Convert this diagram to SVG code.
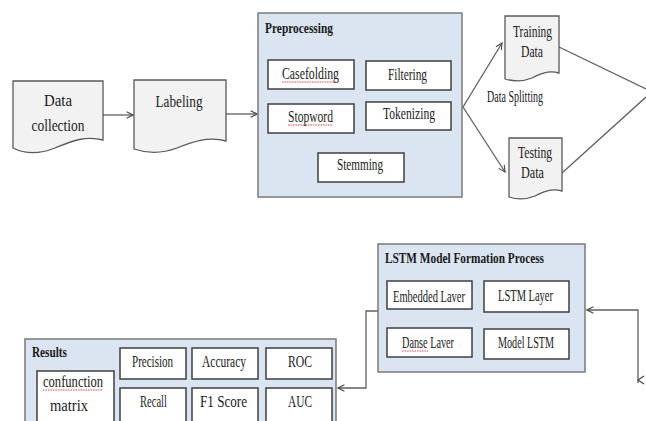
<svg xmlns="http://www.w3.org/2000/svg" width="646" height="421" viewBox="0 0 646 421">
<style>
text{font-family:"Liberation Serif","Times New Roman","DejaVu Serif",serif;fill:#1a1a1a;font-size:16px}
.b{font-weight:bold;font-size:14px}
.doc{fill:#f2f2f2;stroke:#5a5a5a;stroke-width:1.3}
.grp{fill:#dbe5f1;stroke:#7a7a7a;stroke-width:1.5}
.box{fill:#ffffff;stroke:#3f3f3f;stroke-width:1.5}
.c{fill:none;stroke:#5f5f5f;stroke-width:1.3}
.sq{fill:none;stroke:#e03030;stroke-width:0.9;stroke-dasharray:1.5 1}
</style>
<defs>
<marker id="ah" viewBox="0 0 10 10" refX="9" refY="5" markerWidth="8" markerHeight="8" markerUnits="userSpaceOnUse" orient="auto">
<path d="M1,1 L9,5 L1,9" fill="none" stroke="#4a4a4a" stroke-width="1.4"/>
</marker>
</defs>
<rect width="646" height="421" fill="#ffffff"/>

<g id="connectors">
<line class="c" x1="103" y1="115" x2="133" y2="115" marker-end="url(#ah)"/>
<line class="c" x1="226" y1="114" x2="257" y2="114" marker-end="url(#ah)"/>
<polyline class="c" points="463,107 502,43" marker-end="url(#ah)"/>
<polyline class="c" points="463,107 505,172" marker-end="url(#ah)"/>
<line class="c" x1="559" y1="47" x2="646" y2="89"/>
<line class="c" x1="562" y1="173" x2="646" y2="97"/>
<polyline class="c" points="638,383 638,310 587,310" marker-end="url(#ah)"/>
<path d="M644,376 L638,380 L644,384" fill="none" stroke="#4a4a4a" stroke-width="1.3"/>
<polyline class="c" points="378,311 366,311 366,388 338,388" marker-end="url(#ah)"/>
<text x="515" y="102" text-anchor="middle" font-size="11" textLength="56" lengthAdjust="spacingAndGlyphs">Data Splitting</text>
</g>

<g id="data-collection">
<path class="doc" d="M13,81 H103 V140 C85,135 70,142 55,148 C40,154 25,154 13,148 Z"/>
<text x="58" y="106" text-anchor="middle" font-size="19" textLength="28" lengthAdjust="spacingAndGlyphs">Data</text>
<text x="58" y="131" text-anchor="middle" font-size="19" textLength="53" lengthAdjust="spacingAndGlyphs">collection</text>
</g>

<g id="labeling">
<path class="doc" d="M134,80 H226 V141 C208,136 192,142 177,148 C161,154 146,153 134,149 Z"/>
<text x="179" y="107" text-anchor="middle" font-size="18" textLength="47" lengthAdjust="spacingAndGlyphs">Labeling</text>
</g>

<g id="preprocessing">
<rect class="grp" x="258" y="13" width="204" height="184"/>
<text class="b" x="265" y="33" textLength="68" lengthAdjust="spacingAndGlyphs">Preprocessing</text>
<g id="casefolding">
<rect class="box" x="268" y="60" width="86" height="29"/>
<text x="310.5" y="79" text-anchor="middle" textLength="57" lengthAdjust="spacingAndGlyphs">Casefolding</text>
<path class="sq" d="M282,82 H339"/>
</g>
<g id="filtering">
<rect class="box" x="366" y="61" width="85" height="29"/>
<text x="407.5" y="80" text-anchor="middle" textLength="39" lengthAdjust="spacingAndGlyphs">Filtering</text>
</g>
<g id="stopword">
<rect class="box" x="268" y="104" width="86" height="29"/>
<text x="310.5" y="122" text-anchor="middle" textLength="45" lengthAdjust="spacingAndGlyphs">Stopword</text>
<path class="sq" d="M288,125 H333"/>
</g>
<g id="tokenizing">
<rect class="box" x="366" y="102" width="85" height="28"/>
<text x="409" y="119" text-anchor="middle" textLength="52" lengthAdjust="spacingAndGlyphs">Tokenizing</text>
</g>
<g id="stemming">
<rect class="box" x="318" y="153" width="86" height="29"/>
<text x="360" y="170" text-anchor="middle" textLength="46" lengthAdjust="spacingAndGlyphs">Stemming</text>
</g>
</g>

<g id="training-data">
<path class="doc" d="M505,16 H559 V73 C548,70 540,74 532,78 C522,82 512,81 505,79 Z"/>
<text x="532.5" y="37" text-anchor="middle" textLength="39" lengthAdjust="spacingAndGlyphs">Training</text>
<text x="532" y="57" text-anchor="middle" textLength="22" lengthAdjust="spacingAndGlyphs">Data</text>
</g>

<g id="testing-data">
<path class="doc" d="M509,138 H562 V191 C551,188 543,192 535,196 C525,200 515,199 509,197 Z"/>
<text x="535" y="158" text-anchor="middle" textLength="34" lengthAdjust="spacingAndGlyphs">Testing</text>
<text x="532.5" y="178" text-anchor="middle" textLength="23" lengthAdjust="spacingAndGlyphs">Data</text>
</g>

<g id="lstm-process">
<rect class="grp" x="378" y="244" width="207" height="128"/>
<text class="b" x="385" y="263" textLength="159" lengthAdjust="spacingAndGlyphs">LSTM Model Formation Process</text>
<g id="embedded-layer">
<rect class="box" x="387" y="281" width="85" height="28"/>
<text x="429" y="302" text-anchor="middle" textLength="72" lengthAdjust="spacingAndGlyphs">Embedded Laver</text>
</g>
<g id="lstm-layer">
<rect class="box" x="484" y="281" width="85" height="31"/>
<text x="525.5" y="301" text-anchor="middle" textLength="55" lengthAdjust="spacingAndGlyphs">LSTM Layer</text>
</g>
<g id="danse-layer">
<rect class="box" x="387" y="328" width="85" height="29"/>
<text x="428" y="348" text-anchor="middle" textLength="52" lengthAdjust="spacingAndGlyphs">Danse Laver</text>
<path class="sq" d="M402,351 H428"/>
</g>
<g id="model-lstm">
<rect class="box" x="484" y="329" width="85" height="30"/>
<text x="526" y="348" text-anchor="middle" textLength="56" lengthAdjust="spacingAndGlyphs">Model LSTM</text>
</g>
</g>

<g id="results">
<rect class="grp" x="25" y="339" width="311" height="90"/>
<text class="b" x="32" y="357" textLength="35" lengthAdjust="spacingAndGlyphs">Results</text>
<g id="confusion-matrix">
<rect class="box" x="37" y="371" width="77" height="56"/>
<text x="73" y="387" text-anchor="middle" textLength="60" lengthAdjust="spacingAndGlyphs">confunction</text>
<path class="sq" d="M43,390 H103"/>
<text x="69" y="411" text-anchor="middle" textLength="38" lengthAdjust="spacingAndGlyphs">matrix</text>
</g>
<g id="precision">
<rect class="box" x="120" y="348" width="66" height="31"/>
<text x="152.5" y="367" text-anchor="middle" textLength="41" lengthAdjust="spacingAndGlyphs">Precision</text>
</g>
<g id="accuracy">
<rect class="box" x="192" y="348" width="66" height="31"/>
<text x="224" y="367" text-anchor="middle" textLength="44" lengthAdjust="spacingAndGlyphs">Accuracy</text>
</g>
<g id="roc">
<rect class="box" x="266" y="348" width="66" height="31"/>
<text x="300" y="367" text-anchor="middle" textLength="24" lengthAdjust="spacingAndGlyphs">ROC</text>
</g>
<g id="recall">
<rect class="box" x="120" y="388" width="66" height="36"/>
<text x="153.5" y="407" text-anchor="middle" textLength="27" lengthAdjust="spacingAndGlyphs">Recall</text>
</g>
<g id="f1-score">
<rect class="box" x="192" y="388" width="66" height="36"/>
<text x="223.5" y="407" text-anchor="middle" textLength="47" lengthAdjust="spacingAndGlyphs">F1 Score</text>
</g>
<g id="auc">
<rect class="box" x="266" y="388" width="66" height="36"/>
<text x="300" y="407" text-anchor="middle" textLength="24" lengthAdjust="spacingAndGlyphs">AUC</text>
</g>
</g>
</svg>
